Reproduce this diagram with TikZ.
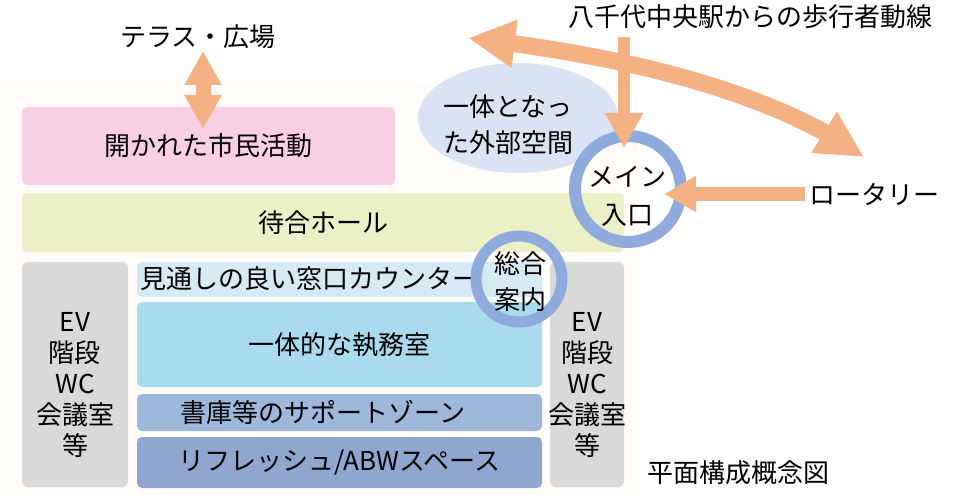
\documentclass[tikz,border=0pt]{standalone}
\usepackage{fontspec}
\setmainfont{Noto Sans CJK JP}
\usetikzlibrary{arrows.meta,bending,shapes.geometric}
\definecolor{flowc}{HTML}{F4B183}
\definecolor{ringc}{HTML}{8FAADC}
\definecolor{pinkc}{HTML}{F9D0E3}
\definecolor{hallc}{HTML}{ECF0C6}
\definecolor{grayc}{HTML}{D9D9D9}
\definecolor{blueA}{HTML}{D5EAF5}
\definecolor{blueB}{HTML}{AADAEE}
\definecolor{blueC}{HTML}{9EB8DC}
\definecolor{blueD}{HTML}{8FA7D0}
\definecolor{ellc}{HTML}{DAE3F3}
\definecolor{backc}{HTML}{FFFCFA}
\tikzset{
  every node/.style={font=\fontsize{26}{36}\selectfont},
  zone/.style={rectangle,rounded corners=5pt,inner sep=0pt,outer sep=0pt},
  ring/.style={circle,draw=ringc,inner sep=0pt,outer sep=0pt},
  flow/.style={draw=flowc,line width=#1},
  bigtip/.tip={Triangle[width=45pt,length=47pt]},
}

\begin{document}
\begin{tikzpicture}[x=1pt,y=-1pt]
\useasboundingbox (0,0) rectangle (954,495);
\fill[backc] (0,85) rectangle (638,495);
% floor zones
\node[zone,fill=pinkc,minimum width=373pt,minimum height=78pt] (katsudo) at (208.5,146) {開かれた市民活動};
\node[zone,fill=hallc,minimum width=602pt,minimum height=59pt] (hall) at (323,222.5) {待合ホール};
\node[zone,fill=grayc,minimum width=106pt,minimum height=225pt] (sideL) at (75,374.5) {};
\node[zone,fill=grayc,minimum width=74pt,minimum height=225pt] (sideR) at (587,374.5) {};
\node[zone,fill=blueA,minimum width=405pt,minimum height=35pt] (counter) at (339.5,279.5) {};
\node[zone,fill=blueB,minimum width=405pt,minimum height=85pt] (office) at (339.5,344.5) {一体的な執務室};
\node[zone,fill=blueC,minimum width=405pt,minimum height=37pt] (support) at (339.5,412.5) {};
\node[zone,fill=blueD,minimum width=405pt,minimum height=51pt] (refresh) at (339.5,462.5) {リフレッシュ/ABWスペース};
\node[ellipse,fill=ellc,inner sep=0pt,minimum width=200pt,minimum height=110pt] (outside) at (518,118) {};
% texts
\node[anchor=west] (countertxt) at (137,279) {見通しの良い窓口カウンター};
\node (supporttxt) at (323,412) {書庫等のサポートゾーン};
\node[align=center,font=\fontsize{26}{31}\selectfont] (sideLtxt) at ([yshift=-10pt]sideL.center) {EV\\階段\\WC\\会議室\\等};
\node[align=center,font=\fontsize{26}{31}\selectfont] (sideRtxt) at ([yshift=-10pt]sideR.center) {EV\\階段\\WC\\会議室\\等};
\node[align=center] (outsidetxt) at (508,125) {一体となっ\\た外部空間};
\node (terrace) at (198,37) {テラス・広場};
\node (station) at (750,17) {八千代中央駅からの歩行者動線};
\node (rotary) at (874,194) {ロータリー};
\node (zutitle) at (738,473) {平面構成概念図};
% entrances
\node[ring,line width=12pt,minimum size=106pt] (entrance) at (628,189) {};
\node[align=center,font=\fontsize{26}{38}\selectfont] (entrancetxt) at (627,196) {メイン\\入口};
\node[ring,line width=11pt,minimum size=86pt] (info) at (519,279) {};
\node[align=center] (infotxt) at (520,282) {総合\\案内};
% flows
\coordinate (terraceA) at (203,51);
\coordinate (terraceB) at (203,129);
\draw[flow=15pt,{Triangle[width=35pt,length=34pt]}-{Triangle[width=35pt,length=34pt]}] (terraceA) -- (terraceB);
\coordinate (walkW) at (468,38);
\coordinate (walkE) at (864,157);
\draw[flow=17pt,bigtip-bigtip] (walkW) .. controls (620,55) and (770,90) .. (walkE);
\coordinate (dropTop) at (624,37);
\draw[flow=12pt,-{Triangle[width=36pt,length=35pt]}] (dropTop) -- ([yshift=-12pt]entrance.north -| dropTop);
\draw[flow=14pt,-{Triangle[width=34pt,length=32pt]}] (rotary.west) -- ([xshift=-17pt]entrance.east |- rotary.west);
\end{tikzpicture}
\end{document}
